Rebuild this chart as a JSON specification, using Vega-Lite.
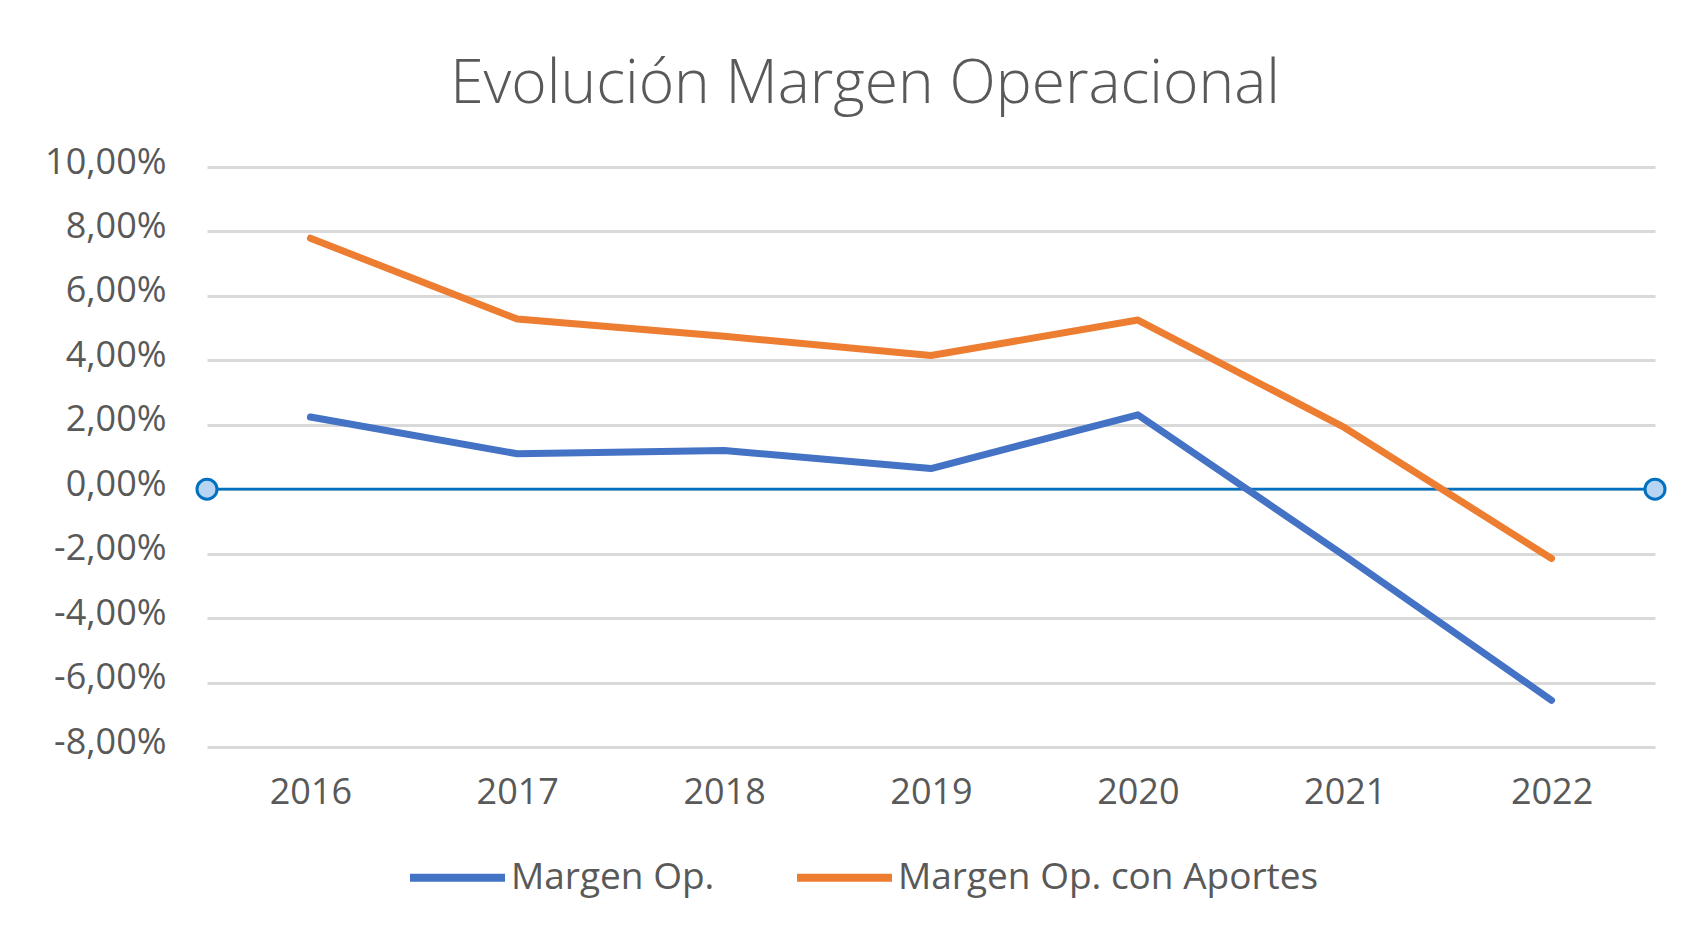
{
  "$schema": "https://vega.github.io/schema/vega-lite/v6.json",
  "width": 1448,
  "height": 580,
  "autosize": {"type": "none"},
  "padding": {"left": 207, "top": 167, "right": 29, "bottom": 193},
  "background": "white",
  "config": {
    "locale": {"number": {"decimal": ",", "thousands": ".", "grouping": [3], "currency": ["", " €"], "minus": "-"}},
    "view": {"stroke": null},
    "font": "Open Sans"
  },
  "title": {
    "text": "Evolución Margen Operacional",
    "fontSize": 60.5,
    "fontWeight": 300,
    "color": "#595959",
    "font": "Open Sans",
    "anchor": "middle",
    "frame": "group",
    "dx": -66,
    "baseline": "alphabetic",
    "offset": -19
  },
  "datasets": {
    "series": [
      {"anio": 2016, "serie": "Margen Op.", "valor": 0.0224},
      {"anio": 2017, "serie": "Margen Op.", "valor": 0.0110},
      {"anio": 2018, "serie": "Margen Op.", "valor": 0.0120},
      {"anio": 2019, "serie": "Margen Op.", "valor": 0.0064},
      {"anio": 2020, "serie": "Margen Op.", "valor": 0.0231},
      {"anio": 2021, "serie": "Margen Op.", "valor": -0.0207},
      {"anio": 2022, "serie": "Margen Op.", "valor": -0.0655},
      {"anio": 2016, "serie": "Margen Op. con Aportes", "valor": 0.0779},
      {"anio": 2017, "serie": "Margen Op. con Aportes", "valor": 0.0528},
      {"anio": 2018, "serie": "Margen Op. con Aportes", "valor": 0.0475},
      {"anio": 2019, "serie": "Margen Op. con Aportes", "valor": 0.0415},
      {"anio": 2020, "serie": "Margen Op. con Aportes", "valor": 0.0525},
      {"anio": 2021, "serie": "Margen Op. con Aportes", "valor": 0.0191},
      {"anio": 2022, "serie": "Margen Op. con Aportes", "valor": -0.0215}
    ],
    "eje": [
      {"anio": 2015.5, "valor": 0},
      {"anio": 2022.5, "valor": 0}
    ]
  },
  "layer": [
    {
      "data": {"name": "eje"},
      "mark": {"type": "line", "color": "#0070C0", "strokeWidth": 2.7},
      "encoding": {
        "x": {
          "field": "anio",
          "type": "quantitative",
          "scale": {"domain": [2015.5, 2022.5], "nice": false, "zero": false},
          "axis": {
            "values": [2016, 2017, 2018, 2019, 2020, 2021, 2022],
            "format": "d",
            "title": null,
            "grid": false,
            "domain": false,
            "ticks": false,
            "labelFontSize": 36,
            "labelFont": "Open Sans",
            "labelColor": "#595959",
            "labelPadding": 28
          }
        },
        "y": {
          "field": "valor",
          "type": "quantitative",
          "scale": {"domain": [-0.08, 0.10], "nice": false, "zero": false},
          "axis": {
            "values": [-0.08, -0.06, -0.04, -0.02, 0, 0.02, 0.04, 0.06, 0.08, 0.10],
            "format": ".2%",
            "title": null,
            "domain": false,
            "ticks": false,
            "gridColor": "#D9D9D9",
            "gridWidth": 3,
            "labelFontSize": 36,
            "labelFont": "Open Sans",
            "labelColor": "#595959",
            "labelPadding": 41,
            "labelOffset": -5
          }
        }
      }
    },
    {
      "data": {"name": "series"},
      "mark": {"type": "line", "strokeWidth": 7, "strokeCap": "round", "strokeJoin": "round"},
      "encoding": {
        "x": {"field": "anio", "type": "quantitative"},
        "y": {"field": "valor", "type": "quantitative"},
        "color": {
          "field": "serie",
          "type": "nominal",
          "scale": {"domain": ["Margen Op.", "Margen Op. con Aportes"], "range": ["#4472C4", "#ED7D31"]},
          "legend": {
            "orient": "none",
            "legendX": 199,
            "legendY": 659,
            "direction": "horizontal",
            "title": null,
            "symbolType": "stroke",
            "symbolSize": 9025,
            "symbolStrokeWidth": 8,
            "labelFontSize": 37,
            "labelFont": "Open Sans",
            "labelColor": "#595959",
            "labelOffset": 2,
            "columnPadding": 66,
            "labelLimit": 0
          }
        }
      }
    },
    {
      "data": {"name": "eje"},
      "mark": {"type": "point", "shape": "circle", "filled": true, "fill": "#B7D5F2", "stroke": "#0070C0", "strokeWidth": 3, "size": 400, "opacity": 1},
      "encoding": {
        "x": {"field": "anio", "type": "quantitative"},
        "y": {"field": "valor", "type": "quantitative"}
      }
    }
  ]
}
